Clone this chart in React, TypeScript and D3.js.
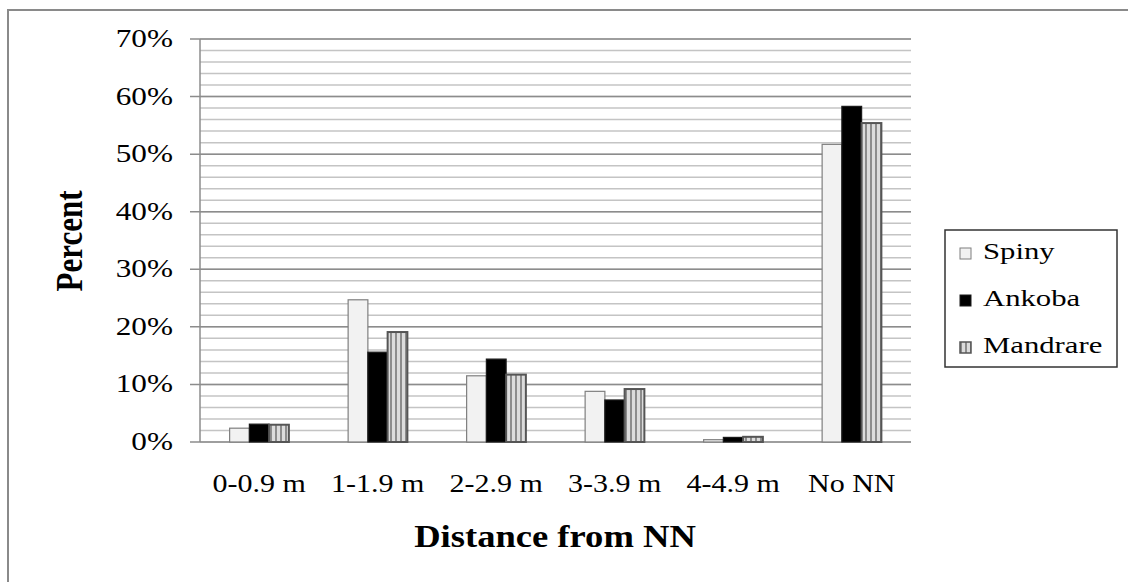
import React from "react";
import * as d3 from "d3";

const categories = ["0-0.9 m", "1-1.9 m", "2-2.9 m", "3-3.9 m", "4-4.9 m", "No NN"];
const seriesNames = ["Spiny", "Ankoba", "Mandrare"];
const spiny = [0.024, 0.247, 0.115, 0.088, 0.004, 0.517];
const ankoba = [0.031, 0.156, 0.144, 0.073, 0.008, 0.583];
const mandrare = [0.030, 0.191, 0.117, 0.092, 0.009, 0.554];
const yTicks = [0, 0.1, 0.2, 0.3, 0.4, 0.5, 0.6, 0.7];
const minorTicks = d3.range(0, 0.7001, 0.02);

const FONT = '"Liberation Serif", Tinos, "Times New Roman", Times, serif';
const ts: React.CSSProperties = { fontFamily: FONT };

export default function App() {
  const W = 1128, H = 582;
  const x = d3.scaleBand<string>().domain(categories).range([200, 911]).paddingInner(0).paddingOuter(0);
  const y = d3.scaleLinear().domain([0, 0.7]).range([442, 39]);
  const bw = x.bandwidth() / 6;
  const series = [spiny, ankoba, mandrare];
  const fills = ["#f2f2f2", "#000000", "url(#stripes)"];
  const strokes = ["#7f7f7f", "#1a1a1a", "#555555"];
  const strokeW = [1.2, 1.2, 2];
  const fmt = d3.format(".0%");

  return (
    <svg width={W} height={H} style={{ position: "absolute", left: 0, top: 0, background: "#fff" }}>
      <defs>
        <pattern id="stripes" patternUnits="userSpaceOnUse" width={5} height={10}>
          <rect x={0} y={0} width={5} height={10} fill="#dcdcdc" />
          <rect x={0} y={0} width={2} height={10} fill="#8c8c8c" />
        </pattern>
      </defs>
      <rect x={0} y={0} width={W} height={H} fill="#fff" />
      <rect x={8} y={10} width={W + 20} height={H + 20} fill="none" stroke="#8a8a8a" strokeWidth={2} />

      {minorTicks.map((t, i) => (
        <line key={"m" + i} x1={200} x2={911} y1={y(t)} y2={y(t)} stroke="#c4c4c4" strokeWidth={1.5} />
      ))}
      {yTicks.map((t, i) => (
        <g key={"M" + i}>
          <line x1={190} x2={911} y1={y(t)} y2={y(t)} stroke="#8c8c8c" strokeWidth={1.5} />
          <g transform={`translate(173,${y(t) + 8}) scale(1.25,1)`}>
            <text textAnchor="end" fontSize={25} fill="#000" style={ts}>{fmt(t)}</text>
          </g>
        </g>
      ))}
      <line x1={200} x2={200} y1={y(0.7)} y2={y(0)} stroke="#8c8c8c" strokeWidth={1.5} />

      {categories.map((c, ci) => {
        const cx = (x(c) as number) + x.bandwidth() / 2;
        return series.map((s, si) => {
          const bx = cx - 1.5 * bw + si * bw;
          return (
            <rect key={c + si} x={bx} y={y(s[ci])} width={bw} height={y(0) - y(s[ci])}
              fill={fills[si]} stroke={strokes[si]} strokeWidth={strokeW[si]} />
          );
        });
      })}

      {categories.map((c) => (
        <g key={"xl" + c} transform={`translate(${(x(c) as number) + x.bandwidth() / 2},492) scale(1.2,1)`}>
          <text textAnchor="middle" fontSize={25} fill="#000" style={ts}>{c}</text>
        </g>
      ))}

      <g transform={`translate(555,547) scale(1.18,1)`}>
        <text textAnchor="middle" fontSize={31} fontWeight="bold" fill="#000" style={ts}>Distance from NN</text>
      </g>
      <g transform={`translate(82,241) scale(1.25,1) rotate(-90)`}>
        <text textAnchor="middle" fontSize={31} fontWeight="bold" fill="#000" style={ts}>Percent</text>
      </g>

      <rect x={945} y={230} width={172} height={137} fill="#fff" stroke="#333" strokeWidth={1.5} />
      {seriesNames.map((n, i) => {
        const by = 259 + i * 47;
        return (
          <g key={n}>
            <rect x={960} y={by - 11} width={11} height={11} fill={fills[i]} stroke={strokes[i]} strokeWidth={i === 2 ? 1.5 : 1} />
            <g transform={`translate(983,${by}) scale(1.28,1)`}>
              <text fontSize={24} fill="#000" style={ts}>{n}</text>
            </g>
          </g>
        );
      })}
    </svg>
  );
}
